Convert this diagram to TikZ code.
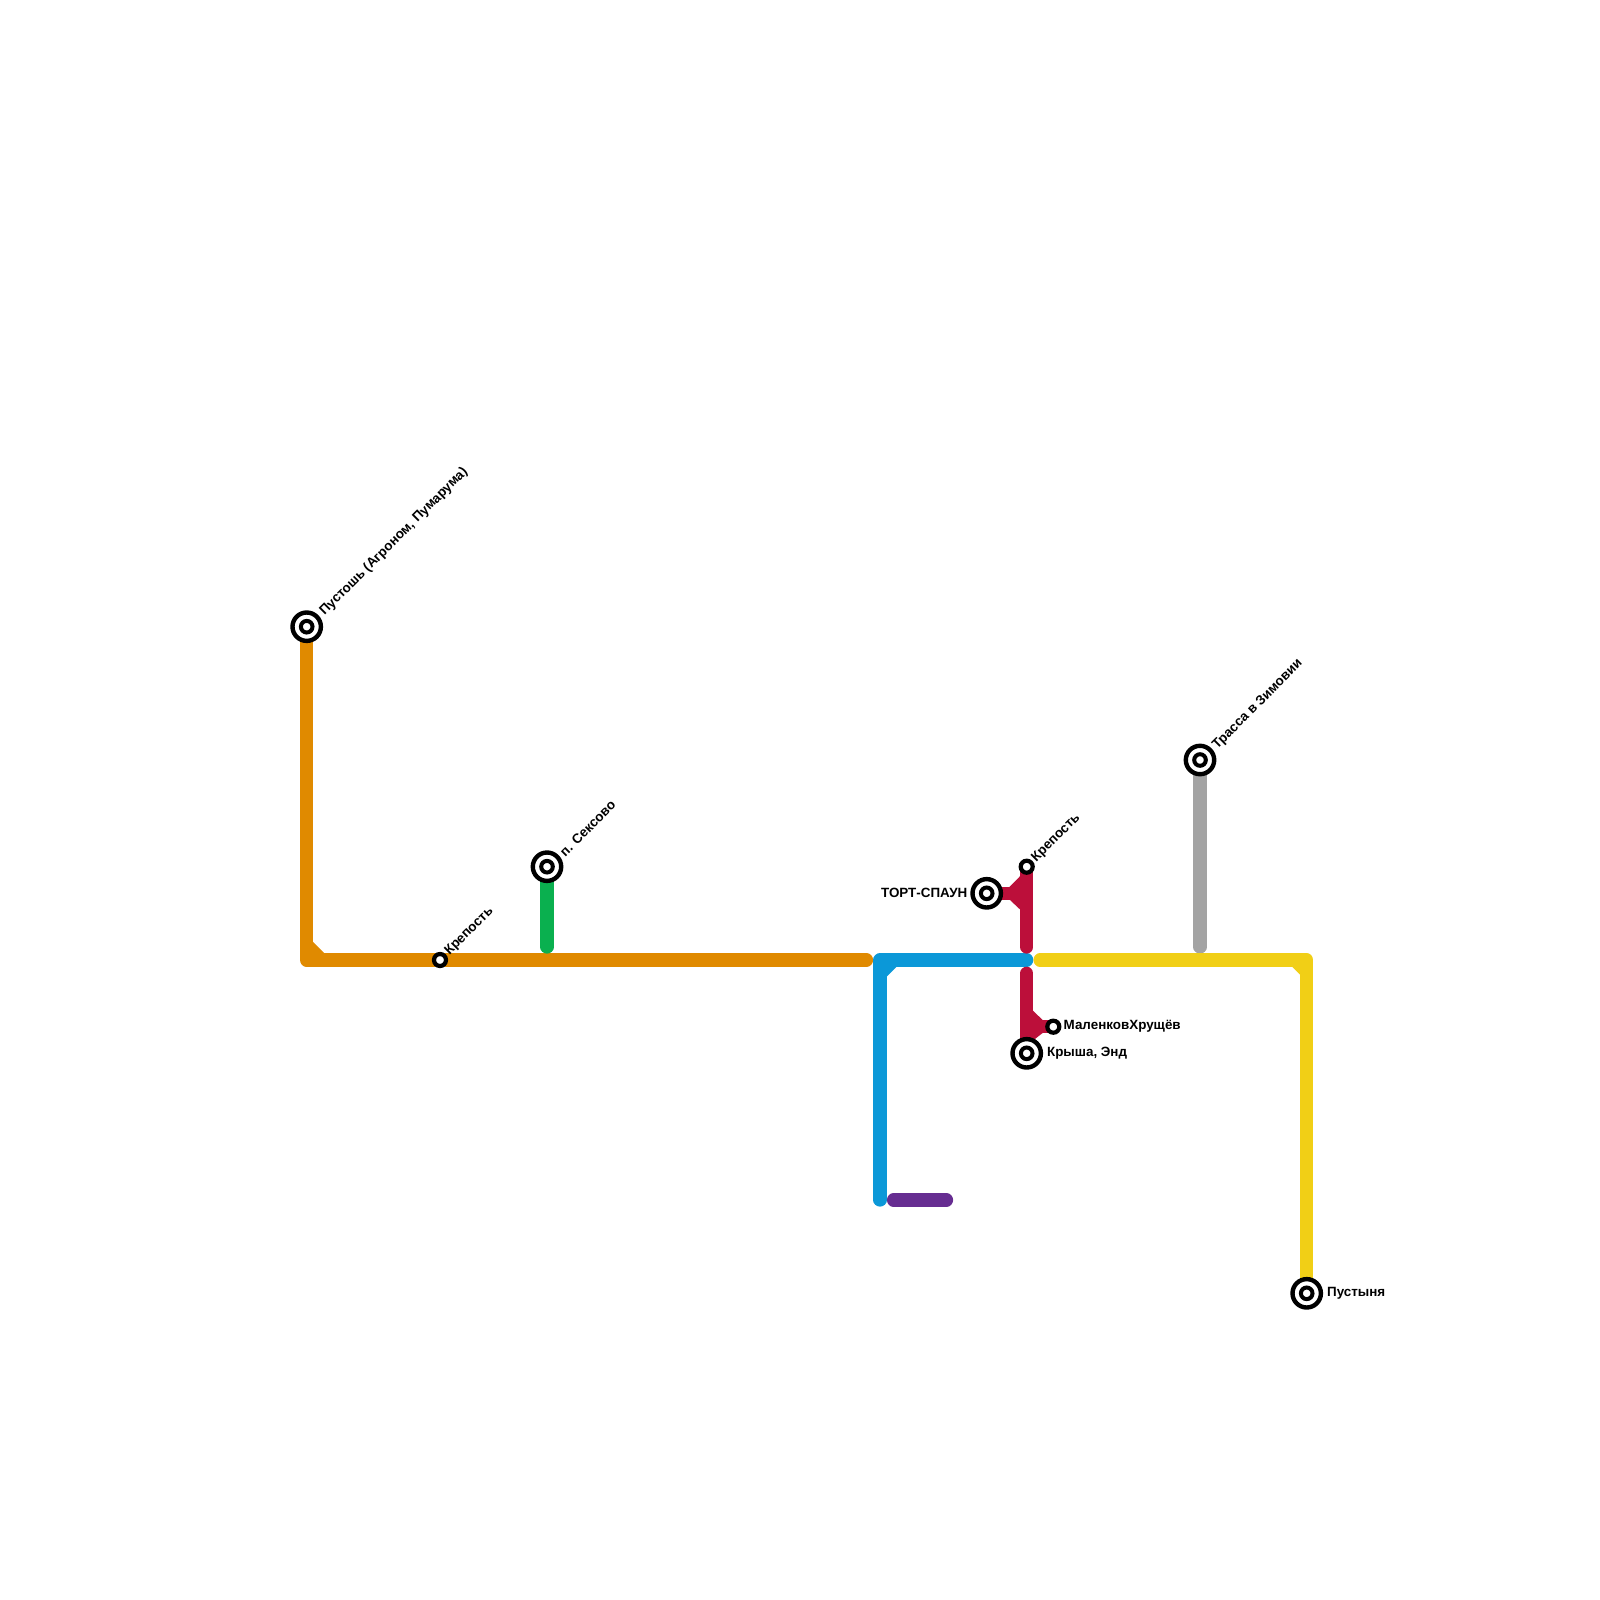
\documentclass[tikz,border=0pt]{standalone}
\usepackage{fontspec}
\setmainfont{Liberation Sans}
\usepackage{xcolor}
\usetikzlibrary{positioning, backgrounds}

\definecolor{lineorange}{HTML}{E08A00}
\definecolor{linegreen}{HTML}{0AB04F}
\definecolor{lineblue}{HTML}{0B98D8}
\definecolor{linered}{HTML}{BC0F3A}
\definecolor{lineyellow}{HTML}{F1CF16}
\definecolor{linegray}{HTML}{A3A3A3}
\definecolor{linepurple}{HTML}{662D91}

\tikzset{
    metro/.style={line width=6.6pt, line cap=round, line join=round},
    chamfer/.style={line width=6.6pt, line cap=butt},
    terminal/.style={circle, draw=black, fill=white, line width=2.2pt, minimum size=14.2pt, inner sep=0pt,
        path picture={\draw[black, line width=2pt] (path picture bounding box.center) circle (2.9pt);}},
    halt/.style={circle, draw=black, fill=white, line width=2.1pt, minimum size=6pt, inner sep=0pt},
    tag/.style={font=\fontsize{6.7}{8}\selectfont\bfseries, inner sep=0pt, text=black},
    slant/.style={tag, rotate=45, anchor=west}
}

\begin{document}
\begin{tikzpicture}[x=0.5pt, y=-0.5pt]
        \useasboundingbox (0,0) rectangle (1600,1600);

        \node[terminal] (pustosh) at (306.7,626.7) {};
        \node[halt] (krepostwest) at (440,960) {};
        \node[terminal] (seksovo) at (547,866.7) {};
        \node[halt] (krepostnorth) at (1026.7,866.7) {};
        \node[terminal] (tort) at (986.7,893.3) {};
        \node[terminal] (trassa) at (1200,760) {};
        \node[halt] (malenkov) at (1053.3,1026.7) {};
        \node[terminal] (krysha) at (1026.7,1053.3) {};
        \node[terminal] (pustynya) at (1306.7,1293.3) {};

        \node[slant, above right=1pt and 1pt of pustosh.center, anchor=west, xshift=8.6pt, yshift=-0.8pt] (pustoshtext) {Пустошь (Агроном, Пумарума)};
        \node[slant, above right=1pt and 1pt of krepostwest.center, anchor=west, xshift=3.3pt, yshift=-0.3pt] (krepostwesttext) {Крепость};
        \node[slant, above right=1pt and 1pt of seksovo.center, anchor=west, xshift=8.2pt, yshift=-0.8pt] (seksovotext) {п. Сексово};
        \node[slant, above right=1pt and 1pt of krepostnorth.center, anchor=west, xshift=3.3pt, yshift=-0.3pt] (krepostnorthtext) {Крепость};
        \node[slant, above right=1pt and 1pt of trassa.center, anchor=west, xshift=8.2pt, yshift=-0.8pt] (trassatext) {Трасса в Зимовии};
        \node[tag, left=9.5pt of tort.center] (torttext) {ТОРТ-СПАУН};
        \node[tag, right=5pt of malenkov.center] (malenkovtext) {МаленковХрущёв};
        \node[tag, right=10pt of krysha.center] (kryshatext) {Крыша, Энд};
        \node[tag, right=10pt of pustynya.center] (pustynyatext) {Пустыня};

        \coordinate (orangecorner) at (306.7,960);
        \coordinate (orangeend) at (866.5,960);
        \coordinate (orangechamferA) at (306.7,945);
        \coordinate (orangechamferB) at (321.7,960);
        \coordinate (greenend) at (547,947);
        \coordinate (grayend) at (1200,947);
        \coordinate (bluecorner) at (880,960);
        \coordinate (blueend) at (1026.7,960);
        \coordinate (bluebottom) at (880,1200);
        \coordinate (bluechamferA) at (880,974);
        \coordinate (bluechamferB) at (894,960);
        \coordinate (purplestart) at (893.5,1200);
        \coordinate (purpleend) at (946.5,1200);
        \coordinate (yellowstart) at (1040,960);
        \coordinate (yellowcorner) at (1306.7,960);
        \coordinate (yellowchamferA) at (1294.7,960);
        \coordinate (yellowchamferB) at (1306.7,972);
        \coordinate (rednorthend) at (1026.7,947);
        \coordinate (redsouthstart) at (1026.7,973.3);
        \coordinate (redjoin) at (1026.7,893.3);
        \coordinate (redupA) at (1026.7,878.8);
        \coordinate (redupB) at (1012.5,893.3);
        \coordinate (redupC) at (1026.7,906.7);
        \coordinate (redlowA) at (1026.7,1013.7);
        \coordinate (redlowB) at (1040,1026.7);
        \coordinate (redlowC) at (1026.7,1037);

        \begin{pgfonlayer}{background}
        \draw[metro, lineorange] (pustosh.center) -- (orangecorner) -- (orangeend);
        \draw[chamfer, lineorange] (orangechamferA) -- (orangechamferB);
        \draw[metro, linegreen] (seksovo.center) -- (greenend);
        \draw[metro, linegray] (trassa.center) -- (grayend);
        \draw[metro, lineblue] (bluebottom) -- (bluecorner) -- (blueend);
        \draw[chamfer, lineblue] (bluechamferA) -- (bluechamferB);
        \draw[metro, linepurple] (purplestart) -- (purpleend);
        \draw[metro, lineyellow] (yellowstart) -- (yellowcorner) -- (pustynya.center);
        \draw[chamfer, lineyellow] (yellowchamferA) -- (yellowchamferB);
        \draw[metro, linered] (krepostnorth.center) -- (rednorthend);
        \draw[chamfer, linered] (tort.center) -- (redjoin);
        \draw[chamfer, linered] (redupA) -- (redupB) -- (redupC);
        \draw[metro, linered] (redsouthstart) -- (krysha.center);
        \draw[chamfer, linered] (redlowA) -- (redlowB);
        \draw[chamfer, linered] (redlowC) -- (redlowB);
        \draw[chamfer, linered] (malenkov.center) -- (redlowB);
        \end{pgfonlayer}

    \end{tikzpicture}
\end{document}
